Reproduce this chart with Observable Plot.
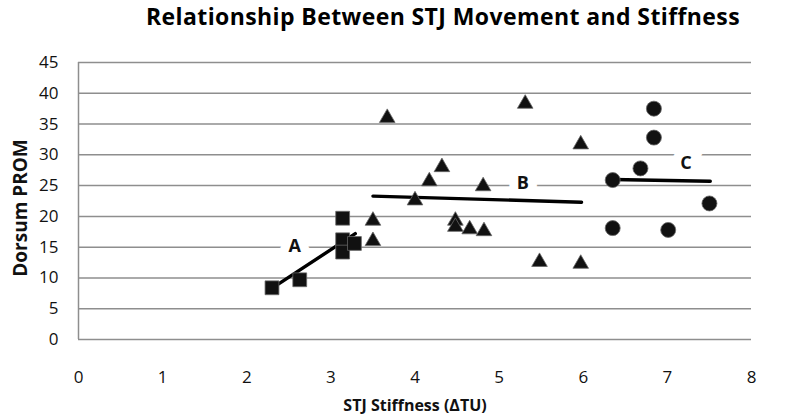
<!DOCTYPE html>
<html>
<head>
<meta charset="utf-8">
<script src="https://cdn.jsdelivr.net/npm/d3@7"></script>
<script src="https://cdn.jsdelivr.net/npm/@observablehq/plot@0.6"></script>
<style>
  html, body { margin: 0; padding: 0; background: #fff; }
  #wrap { width: 785px; }
  #title { height: 40px; box-sizing: border-box; padding-top: 0; padding-left: 101px;
    text-align: center; font-family: "Open Sans", sans-serif; font-weight: 700; font-size: 23px;
    line-height: 32px; color: #000; letter-spacing: 0.4px; white-space: nowrap; }
  svg { display: block; }
</style>
</head>
<body>
<div id="wrap">
  <div id="title">Relationship Between STJ Movement and Stiffness</div>
  <div id="chart"></div>
</div>
<script>
// Group A (squares)
const sqX = [2.30, 2.63, 3.14, 3.14, 3.14, 3.28];
const sqY = [8.4, 9.7, 19.7, 16.2, 14.2, 15.6];
// Group B (triangles)
const triX = [3.67, 5.31, 5.97, 4.32, 4.17, 4.81, 4.00, 3.50, 3.50, 4.48, 4.48, 4.65, 4.82, 5.48, 5.97];
const triY = [36.0, 38.3, 31.7, 28.0, 25.7, 24.9, 22.6, 19.3, 16.0, 19.3, 18.3, 17.9, 17.6, 12.6, 12.3];
// Group C (circles)
const cirX = [6.84, 6.84, 6.68, 6.35, 7.50, 6.35, 7.01];
const cirY = [37.5, 32.8, 27.8, 25.9, 22.1, 18.1, 17.8];
// Trend lines (start, end)
const lineAX = [2.32, 3.29], lineAY = [8.5, 17.2];
const lineBX = [3.50, 5.98], lineBY = [23.3, 22.3];
const lineCX = [6.35, 7.51], lineCY = [26.0, 25.7];
// Group labels
const labelText = ["A", "B", "C"];
const labelX = [2.57, 5.28, 7.22];
const labelY = [15.1, 25.4, 28.6];
// Ticks
const xTicks = [0, 1, 2, 3, 4, 5, 6, 7, 8];
const yTicks = [0, 5, 10, 15, 20, 25, 30, 35, 40, 45];

const pts = (xs, ys) => xs.map((x, i) => ({x, y: ys[i]}));
const squares = pts(sqX, sqY);
const triangles = pts(triX, triY);
const circles = pts(cirX, cirY);
const lineA = pts(lineAX, lineAY);
const lineB = pts(lineBX, lineBY);
const lineC = pts(lineCX, lineCY);
const labels = labelText.map((t, i) => ({t, x: labelX[i], y: labelY[i]}));

const grid = "#8e8e8e";
const font = "'Open Sans', sans-serif";

const chart = Plot.plot({
  width: 785,
  height: 380,
  marginLeft: 78,
  marginRight: 34,
  marginTop: 22,
  marginBottom: 81,
  style: {fontFamily: font, fontSize: "17px", color: "#000", background: "#fff"},
  x: {domain: [0, 8]},
  y: {domain: [0, 45]},
  marks: [
    Plot.gridY(yTicks, {stroke: grid, strokeOpacity: 1, strokeWidth: 1.5}),
    Plot.ruleX([0], {stroke: grid, strokeWidth: 1.5}),
    Plot.axisY(yTicks, {tickSize: 0, tickPadding: 20, label: null, fontSize: 17, fill: "#111"}),
    Plot.axisX(xTicks, {tickSize: 0, tickPadding: 31, label: null, fontSize: 17, fill: "#111"}),
    Plot.text(labels, {x: "x", y: "y", text: "t", fontWeight: "bold", fontSize: 18, fill: "#111",
      stroke: "white", strokeWidth: 18, strokeLinejoin: "miter"}),
    Plot.line(lineA, {x: "x", y: "y", stroke: "#000", strokeWidth: 3.4}),
    Plot.line(lineB, {x: "x", y: "y", stroke: "#000", strokeWidth: 3.4}),
    Plot.line(lineC, {x: "x", y: "y", stroke: "#000", strokeWidth: 3.4}),
    Plot.dot(squares, {x: "x", y: "y", symbol: "square", r: 7.8, fill: "#111", stroke: "#666", strokeWidth: 0.8}),
    Plot.dot(triangles, {x: "x", y: "y", symbol: "triangle", r: 5.8, fill: "#111", stroke: "#666", strokeWidth: 0.8}),
    Plot.dot(circles, {x: "x", y: "y", symbol: "circle", r: 7.5, fill: "#111", stroke: "#666", strokeWidth: 0.8}),
    Plot.text(["Dorsum PROM"], {frameAnchor: "left", textAnchor: "middle", lineAnchor: "middle", dx: -58, dy: 7, rotate: -90,
      fontWeight: "bold", fontSize: 19, fill: "#111"}),
    Plot.text(["STJ Stiffness (ΔTU)"], {frameAnchor: "bottom", lineAnchor: "bottom", dy: 71, fontWeight: "bold", fontSize: 16,
      fill: "#111", style: "letter-spacing:-0.2px"})
  ]
});
document.getElementById("chart").appendChild(chart);
</script>
</body>
</html>
